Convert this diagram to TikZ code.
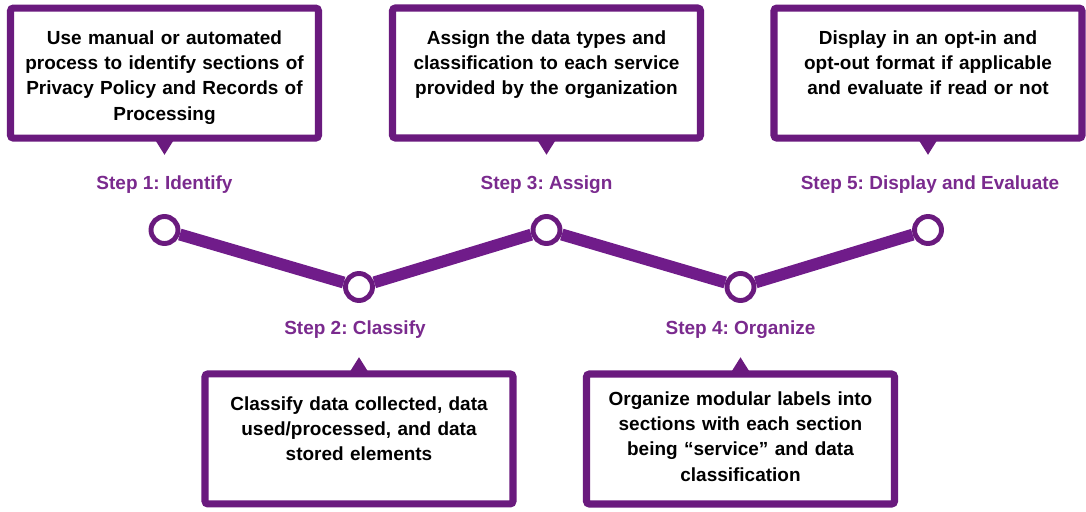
\documentclass[tikz,border=0pt]{standalone}
\usepackage{fontspec}
\setmainfont{Liberation Sans}
\usetikzlibrary{positioning, calc}

\definecolor{stepborder}{RGB}{106,26,126}
\definecolor{steptext}{RGB}{122,42,142}
\definecolor{stepline}{RGB}{112,28,138}

\tikzset{
  note/.style={rectangle, rounded corners=2pt, draw=stepborder, line width=5pt, fill=white,
    minimum width=7.7cm, minimum height=3.25cm, text width=7.4cm, align=center,
    inner sep=0.1cm, text height=0.807cm, text depth=2.243cm,
    font=\bfseries\fontsize{13.5}{18}\selectfont},
  stepname/.style={inner sep=0pt, text=steptext, font=\bfseries\fontsize{13.5}{16}\selectfont},
  dot/.style={circle, draw=stepborder, line width=3.5pt, fill=white, minimum size=0.675cm, inner sep=0pt},
  link/.style={draw=stepline, line width=8.5pt},
}

\begin{document}
\frenchspacing
\begin{tikzpicture}
    \useasboundingbox (0,0) rectangle (27.15,12.775);

    % milestones on the zigzag
    \node[dot] (c1) at (4.1125,7.025) {};
    \node[dot] (c2) at (8.975,5.6) {};
    \node[dot] (c3) at (13.6625,7.025) {};
    \node[dot] (c4) at (18.5125,5.6) {};
    \node[dot] (c5) at (23.2,7.025) {};
    \foreach \i/\j in {1/2,2/3,3/4,4/5}
        \draw[link] (c\i) -- (c\j);

    % step names
    \node[stepname, above=0.505cm of c1] (s1) {Step 1: Identify};
    \node[stepname, below=0.44cm of c2, xshift=-0.1cm] (s2) {Step 2: Classify};
    \node[stepname, above=0.505cm of c3] (s3) {Step 3: Assign};
    \node[stepname, below=0.44cm of c4] (s4) {Step 4: Organize};
    \node[stepname, above=0.505cm of c5, xshift=0.05cm] (s5) {Step 5: Display and Evaluate};

    % callouts
    \node[note, above=0.85cm of s1] (n1) {Use manual or automated\\process to identify sections of\\Privacy Policy and Records of\\Processing};
    \node[note, below=0.79cm of s2, xshift=0.1cm] (n2) {Classify data collected, data\\used/processed, and data\\stored elements};
    \node[note, above=0.85cm of s3] (n3) {Assign the data types and\\classification to each service\\provided by the organization};
    \node[note, below=0.79cm of s4, text height=0.68cm, text depth=2.37cm] (n4) {Organize modular labels into\\sections with each section\\being “service” and data\\classification};
    \node[note, above=0.85cm of s5, xshift=-0.05cm] (n5) {Display in an opt-in and\\opt-out format if applicable\\and evaluate if read or not};

    % pointers
    \foreach \n in {n1,n3,n5}
        \fill[stepborder] ($(\n.south)+(-0.27,0.1)$) -- ($(\n.south)+(0.27,0.1)$) -- ($(\n.south)+(0,-0.33)$) -- cycle;
    \foreach \n in {n2,n4}
        \fill[stepborder] ($(\n.north)+(-0.27,-0.1)$) -- ($(\n.north)+(0.27,-0.1)$) -- ($(\n.north)+(0,0.33)$) -- cycle;
\end{tikzpicture}
\end{document}
